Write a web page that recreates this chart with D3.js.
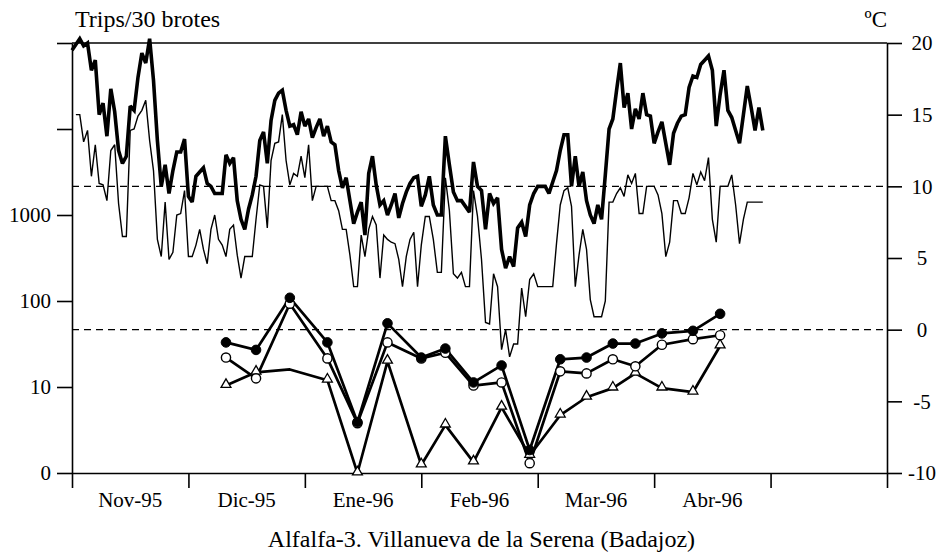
<!DOCTYPE html>
<html><head><meta charset="utf-8">
<script src="https://cdnjs.cloudflare.com/ajax/libs/d3/7.8.5/d3.min.js"></script>
<style>
html,body{margin:0;padding:0;background:#fff;}
svg{display:block;font-family:"Liberation Serif","Times New Roman",serif;}
</style></head>
<body><svg id="c" width="946" height="560"></svg>
<script>
// ---------- DATA ----------
const monthLabels = ["Nov-95","Dic-95","Ene-96","Feb-96","Mar-96","Abr-96"];
const monthStarts = ["1995-11-01","1995-12-01","1996-01-01","1996-02-01","1996-03-01","1996-04-01","1996-05-01","1996-06-01"];
const leftTicks = [1,10,100,1000,10000,100000];
const leftTickLabels = ["0","10","100","1000","",""];
const rightTicks = [-10,-5,0,5,10,15,20];
const refTemps = [10,0];

// daily max temperature (thick line), starting 1995-11-01
const tmaxStart = "1995-11-01";
const tmax = [19.5,19.9,20.3,19.8,20.0,18.1,18.8,15.0,15.8,13.5,16.8,15.2,12.5,11.6,12.1,15.6,15.3,17.6,19.3,18.6,
20.3,17.4,13.2,10.0,11.5,9.5,11.1,12.4,12.4,13.3,9.3,8.9,10.7,11.0,11.3,10.2,10.0,9.5,9.5,9.5,
12.2,11.6,12.0,9.0,7.7,7.0,8.4,9.4,10.7,13.2,13.8,11.6,14.6,16.0,16.5,16.7,15.3,14.2,14.3,13.6,
15.2,14.2,14.7,13.4,14.1,14.7,13.5,14.2,13.1,12.9,11.1,9.9,10.6,9.0,7.4,8.2,8.9,6.6,10.9,12.1,
10.1,8.7,9.0,8.0,8.7,9.5,7.8,8.8,9.6,10.2,10.6,10.7,8.6,9.4,10.7,8.7,8.0,8.0,13.5,11.5,
9.6,9.0,9.0,8.6,8.2,11.7,10.0,9.7,7.0,9.5,8.8,9.2,5.6,4.3,5.1,4.4,7.1,7.5,6.5,8.7,
9.5,10.0,10.0,10.0,9.5,10.3,11.1,12.5,13.6,13.6,10.0,12.1,10.0,11.0,9.0,8.0,7.4,8.7,7.7,10.8,
14.0,14.7,16.7,18.6,15.5,16.5,14.0,15.4,14.7,16.5,15.0,14.9,13.0,13.8,14.5,13.0,11.5,13.7,14.4,14.9,
15.0,16.9,17.7,17.6,18.5,18.8,19.1,18.1,14.2,16.4,18.1,15.3,14.8,13.9,13.0,15.0,17.0,15.5,13.9,15.5,
13.9];

// daily min temperature (thin line), starting 1995-11-02
const tminStart = "1995-11-02";
const tmin = [15.0,15.0,13.1,13.9,10.7,12.9,10.2,10.1,9.0,12.5,12.9,8.8,6.5,6.5,13.9,14.0,14.9,15.3,16.0,
13.2,11.1,6.3,5.1,8.9,4.9,5.4,8.0,8.1,9.7,5.1,5.1,5.9,7.0,5.6,4.6,7.0,8.0,6.3,5.9,
5.1,7.0,7.3,5.2,3.6,5.1,5.1,5.1,7.7,10.1,10.0,7.1,11.8,13.0,13.1,15.0,11.8,10.1,10.9,10.7,
12.1,10.6,12.9,9.0,10.0,10.0,10.0,10.0,9.0,9.0,8.3,7.0,7.0,5.2,3.0,3.0,6.6,5.1,7.0,7.9,
7.3,3.6,6.6,6.3,6.1,6.0,4.9,3.0,5.1,6.3,6.8,3.0,5.9,7.9,7.9,6.3,4.0,4.0,10.6,8.3,
3.9,3.6,4.0,3.0,3.0,9.7,7.9,4.9,0.5,0.4,3.9,3.0,-1.4,0.0,-1.9,-1.0,-1.0,2.9,0.9,3.5,
3.9,3.0,3.0,3.0,3.0,3.0,6.0,8.7,9.7,9.9,8.6,3.0,5.2,7.0,5.6,2.1,0.9,0.9,0.9,2.0,
8.9,8.9,9.5,9.9,9.3,10.8,10.2,10.9,8.1,8.1,10.0,10.0,10.0,9.4,8.1,5.1,6.1,9.0,9.0,8.1,
8.1,9.2,10.9,10.1,11.0,10.4,12.0,7.7,6.1,10.0,10.0,10.0,10.8,8.7,6.0,7.7,8.9,8.9,8.9,8.9,
8.9];

// trips per 30 shoots, sampling dates
const sampleDates = ["1995-12-11","1995-12-19","1995-12-28","1996-01-07","1996-01-15","1996-01-23","1996-02-01",
"1996-02-07","1996-02-14","1996-02-21","1996-02-28","1996-03-07","1996-03-14","1996-03-21","1996-03-27",
"1996-04-03","1996-04-11","1996-04-18"];
const tripsFilled = [33,27,109,33,3.9,55,22,28,11.3,17.8,1.85,21,22,32,32,42,45,71];
const tripsOpen   = [22,12.6,93,21.5,3.8,33,21.5,25,10.4,11.3,1.3,15.2,14.4,21,17.4,31,36,40];
const tripsTri    = [10.4,14.8,16,12,0,19.9,1.24,3.6,1.34,5.8,1.6,4.7,7.6,9.7,14.4,9.7,8.7,30];
const triNoMarker = ["1995-12-28"];

// ---------- CHART ----------
const parse = d3.timeParse("%Y-%m-%d");
const svg = d3.select("#c");
const L = 72, R = 887, T = 43, B = 473;
const mDates = monthStarts.map(parse);
const x = d3.scaleTime().domain(mDates).range(mDates.map((d,i)=> L + i*(R-L)/(mDates.length-1)));
const yT = d3.scaleLinear().domain([-10,20]).range([B,T]);
const yL = d3.scaleLog().domain([1,1e5]).range([B,T]);

const fontTick = 21;

// reference dashed lines
svg.selectAll("line.ref").data(refTemps).join("line")
  .attr("x1",L).attr("x2",R).attr("y1",d=>yT(d)).attr("y2",d=>yT(d))
  .attr("stroke","#000").attr("stroke-width",1.2).attr("stroke-dasharray","7,5");

// axes
const gl = svg.append("g").attr("transform",`translate(${L},0)`)
  .call(d3.axisLeft(yL).tickValues(leftTicks).tickFormat((d,i)=>leftTickLabels[i]).tickSize(15).tickSizeOuter(0).tickPadding(6));
const gr = svg.append("g").attr("transform",`translate(${R},0)`)
  .call(d3.axisRight(yT).tickValues(rightTicks).tickSize(15).tickSizeOuter(0).tickPadding(6)
  .tickFormat(d3.format("d")));
const gb = svg.append("g").attr("transform",`translate(0,${B})`)
  .call(d3.axisBottom(x).tickValues(mDates).tickFormat("").tickSize(15).tickSizeOuter(0));
svg.append("line").attr("x1",L).attr("x2",R).attr("y1",T).attr("y2",T).attr("stroke","#000").attr("stroke-width",1.6);
[gl,gr,gb].forEach(g=>{
  g.selectAll("path.domain").attr("stroke","#000").attr("stroke-width",1.6);
  g.selectAll(".tick line").attr("stroke","#000").attr("stroke-width",1.6);
  g.selectAll("text").attr("font-family","Liberation Serif").attr("font-size",fontTick).attr("fill","#000");
});
gr.selectAll("text").text(d=>d<0?"-"+Math.abs(d):d).attr("x",35).attr("text-anchor","middle");

// month labels centred in month intervals
svg.append("g").selectAll("text").data(monthLabels).join("text")
  .attr("x",(d,i)=>(x(mDates[i])+x(mDates[i+1]))/2).attr("y",B+34)
  .attr("text-anchor","middle").attr("font-size",fontTick).text(d=>d);

// temperature lines
const tLine = d3.line().x(d=>x(d.date)).y(d=>yT(d.v));
const toSeries = (start, arr) => arr.map((v,i)=>({date:d3.timeDay.offset(parse(start),i), v}));
svg.append("path").datum(toSeries(tminStart,tmin)).attr("d",tLine)
  .attr("fill","none").attr("stroke","#000").attr("stroke-width",1.4).attr("stroke-linejoin","miter").attr("stroke-miterlimit",3);
svg.append("path").datum(toSeries(tmaxStart,tmax)).attr("d",tLine)
  .attr("fill","none").attr("stroke","#000").attr("stroke-width",3.6).attr("stroke-linejoin","miter").attr("stroke-miterlimit",2.5);

// trips series
const sd = sampleDates.map(parse);
const lLine = d3.line().x(d=>x(d.date)).y(d=>yL(Math.max(1,d.v)));
const mk = arr => arr.map((v,i)=>({date:sd[i], v, key:sampleDates[i]}));
const sTri = mk(tripsTri), sOpen = mk(tripsOpen), sFill = mk(tripsFilled);
[sTri,sOpen,sFill].forEach(s=>{
  svg.append("path").datum(s).attr("d",lLine).attr("fill","none").attr("stroke","#000")
    .attr("stroke-width",2.7).attr("stroke-linejoin","round");
});
const tri = d3.symbol().type(d3.symbolTriangle).size(42);
svg.append("g").selectAll("path").data(sTri.filter(d=>!triNoMarker.includes(d.key))).join("path")
  .attr("d",tri).attr("transform",d=>`translate(${x(d.date)},${yL(Math.max(1,d.v))-1})`)
  .attr("fill","#fff").attr("stroke","#000").attr("stroke-width",1.3);
svg.append("g").selectAll("circle").data(sOpen).join("circle")
  .attr("cx",d=>x(d.date)).attr("cy",d=>yL(Math.max(1,d.v))).attr("r",4.6)
  .attr("fill","#fff").attr("stroke","#000").attr("stroke-width",1.4);
svg.append("g").selectAll("circle").data(sFill).join("circle")
  .attr("cx",d=>x(d.date)).attr("cy",d=>yL(Math.max(1,d.v))).attr("r",4.8)
  .attr("fill","#000").attr("stroke","#000").attr("stroke-width",1);

// titles
svg.append("text").attr("x",75).attr("y",27).attr("font-size",24).text("Trips/30 brotes");
svg.append("text").attr("x",887).attr("y",27).attr("text-anchor","end").attr("font-size",23).text("ºC");
svg.append("text").attr("x",(L+R)/2+2).attr("y",547).attr("text-anchor","middle").attr("font-size",24)
  .text("Alfalfa-3. Villanueva de la Serena (Badajoz)");
</script></body></html>
